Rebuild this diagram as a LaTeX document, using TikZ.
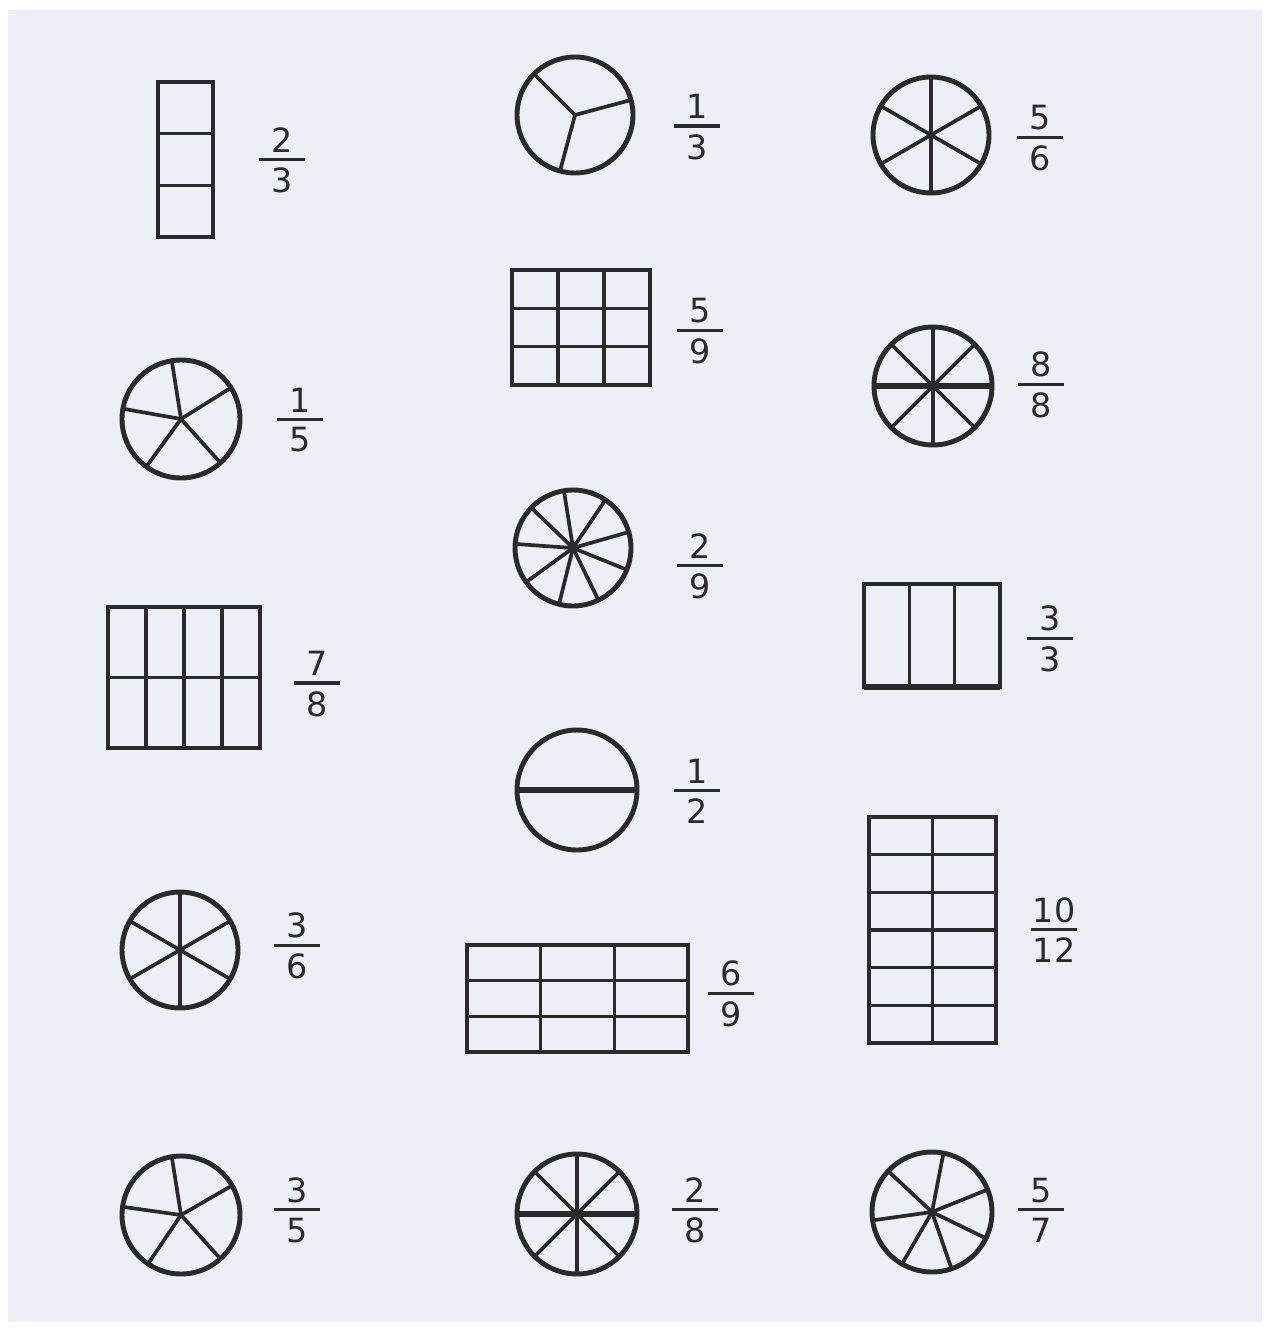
\documentclass[tikz,border=0pt]{standalone}
\usepackage{fontspec}
\setmainfont{DejaVu Sans}
\usetikzlibrary{calc}
\definecolor{ink}{HTML}{2A2A2A}
\definecolor{paper}{HTML}{EDEFF6}
\newcommand\frbox[2]{\vbox{\hbox to 1.4em{\hss#1\hss}\kern3.2pt\hrule height 1.8pt\kern3.8pt\hbox to 1.4em{\hss#2\hss}}}
\newcommand\fracnode[4]{\node[fraclab] (#1) at (#2) {\frbox{#3}{#4}};}
\begin{document}
\begin{tikzpicture}[x=0.02cm,y=-0.02cm,
  wheel/.style={circle, draw=ink, line width=2.8pt, inner sep=0pt, outer sep=0pt, minimum size=#1},
  spoke/.style={draw=ink, line width=2.1pt},
  thickspoke/.style={draw=ink, line width=3.6pt},
  gridbox/.style={rectangle, draw=ink, line width=2.1pt, inner sep=0pt, outer sep=0pt},
  gridline/.style={draw=ink, line width=1.9pt},
  fraclab/.style={inner sep=0pt, outer sep=0pt, text=ink, font=\fontsize{19}{23}\selectfont}]
\fill[white] (0,0) rectangle (1269,1331);
\fill[paper] (8,10) rectangle (1262,1322);
\useasboundingbox (0,0) rectangle (1269,1331);

% ---------- rectangles ----------
\node[gridbox, minimum width=1.10cm, minimum height=3.10cm] (rA) at (185.5,159.5) {};
\foreach \t in {0.3333,0.6667}
  \draw[gridline] ($(rA.north west)!\t!(rA.south west)$) -- ($(rA.north east)!\t!(rA.south east)$);

\node[gridbox, minimum width=2.76cm, minimum height=2.30cm] (rB) at (581,327.5) {};
\foreach \t in {0.3333,0.6667}{
  \draw[gridline] ($(rB.north west)!\t!(rB.north east)$) -- ($(rB.south west)!\t!(rB.south east)$);
  \draw[gridline] ($(rB.north west)!\t!(rB.south west)$) -- ($(rB.north east)!\t!(rB.south east)$);}

\node[gridbox, minimum width=3.04cm, minimum height=2.82cm] (rC) at (184,677.5) {};
\foreach \t in {0.25,0.5,0.75}
  \draw[gridline] ($(rC.north west)!\t!(rC.north east)$) -- ($(rC.south west)!\t!(rC.south east)$);
\draw[gridline] (rC.west) -- (rC.east);

\node[gridbox, minimum width=2.72cm, minimum height=2.06cm] (rD) at (932,635.5) {};
\foreach \t in {0.3333,0.6667}
  \draw[gridline] ($(rD.north west)!\t!(rD.north east)$) -- ($(rD.south west)!\t!(rD.south east)$);
\draw[draw=ink, line width=3.2pt] (rD.south west) -- (rD.south east);

\node[gridbox, minimum width=4.42cm, minimum height=2.14cm] (rE) at (577.5,998.5) {};
\foreach \t in {0.3333,0.6667}{
  \draw[gridline] ($(rE.north west)!\t!(rE.north east)$) -- ($(rE.south west)!\t!(rE.south east)$);
  \draw[gridline] ($(rE.north west)!\t!(rE.south west)$) -- ($(rE.north east)!\t!(rE.south east)$);}

\node[gridbox, minimum width=2.54cm, minimum height=4.52cm] (rF) at (932.5,930) {};
\draw[gridline] (rF.north) -- (rF.south);
\foreach \t in {0.1667,0.3333,0.5,0.6667,0.8333}
  \draw[gridline] ($(rF.north west)!\t!(rF.south west)$) -- ($(rF.north east)!\t!(rF.south east)$);

% ---------- circles ----------
\node[wheel=2.32cm] (c13) at (575,115) {};
\foreach \a in {15,135,255} \draw[spoke] (c13.center) -- (c13.\a);

\node[wheel=2.32cm] (c56) at (931,135) {};
\foreach \a in {30,90,150,210,270,330} \draw[spoke] (c56.center) -- (c56.\a);

\node[wheel=2.36cm] (c15) at (181,419) {};
\foreach \a in {32,99,170,234,312} \draw[spoke] (c15.center) -- (c15.\a);

\node[wheel=2.32cm] (c29) at (573,548) {};
\foreach \a in {16,56,99,136,176,216,256,296,338} \draw[spoke] (c29.center) -- (c29.\a);

\node[wheel=2.36cm] (c88) at (933,386) {};
\foreach \a in {45,90,135,225,270,315} \draw[spoke] (c88.center) -- (c88.\a);
\draw[thickspoke] (c88.west) -- (c88.east);

\node[wheel=2.40cm] (c12) at (577,790) {};
\draw[thickspoke] (c12.west) -- (c12.east);

\node[wheel=2.32cm] (c36) at (180,950) {};
\foreach \a in {30,90,150,210,270,330} \draw[spoke] (c36.center) -- (c36.\a);

\node[wheel=2.36cm] (c35) at (181,1215) {};
\foreach \a in {30,99,172,236,312} \draw[spoke] (c35.center) -- (c35.\a);

\node[wheel=2.40cm] (c28) at (577,1214) {};
\foreach \a in {45,135,225,315} \draw[spoke] (c28.center) -- (c28.\a);
\draw[thickspoke] (c28.west) -- (c28.east);
\draw[draw=ink, line width=2.8pt] (c28.north) -- (c28.south);

\node[wheel=2.40cm] (c57) at (932,1212) {};
\foreach \a in {22,79,137,188,240,289,334} \draw[spoke] (c57.center) -- (c57.\a);

% ---------- fractions ----------
\fracnode{f23}{282,160}{2}{3}
\fracnode{f13}{697,127}{1}{3}
\fracnode{f56}{1040,138}{5}{6}
\fracnode{f15}{300,420}{1}{5}
\fracnode{f59}{700,331}{5}{9}
\fracnode{f88}{1041,385}{8}{8}
\fracnode{f29}{700,566}{2}{9}
\fracnode{f78}{317,684}{7}{8}
\fracnode{f33}{1050,639}{3}{3}
\fracnode{f12}{697,791}{1}{2}
\fracnode{f36}{297,946}{3}{6}
\fracnode{f69}{731,994}{6}{9}
\fracnode{f1012}{1054,930}{10}{12}
\fracnode{f35}{297,1210}{3}{5}
\fracnode{f28}{695,1210}{2}{8}
\fracnode{f57}{1041,1210}{5}{7}
\end{tikzpicture}
\end{document}
